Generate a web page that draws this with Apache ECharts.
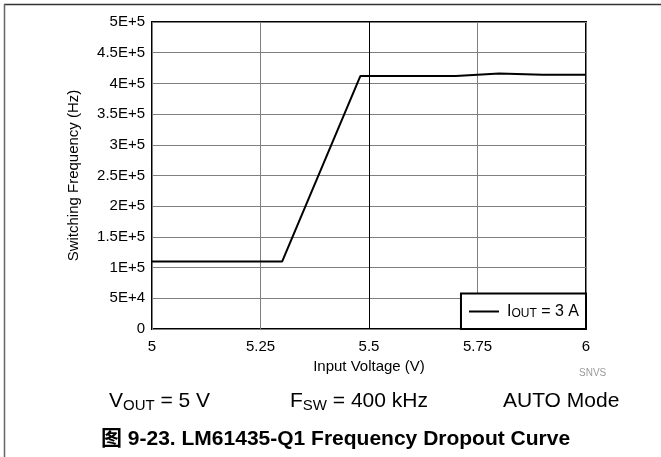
<!DOCTYPE html>
<html>
<head>
<meta charset="utf-8">
<script src="https://cdn.jsdelivr.net/npm/echarts@6/dist/echarts.min.js"></script>
<style>
html,body{margin:0;padding:0;background:#fff;}
#chart{width:661px;height:457px;}
</style>
</head>
<body>
<div id="chart"></div>
<script>
// Data
var inputVoltage = [5.0, 5.30, 5.48, 5.70, 5.80, 5.90, 6.0];
var switchingFreq = [110000, 110000, 412000, 412000, 416000, 414000, 414000];
var seriesName = 'IOUT = 3 A';
var xTickLabels = ['5', '5.25', '5.5', '5.75', '6'];
var yTickLabels = ['0', '5E+4', '1E+5', '1.5E+5', '2E+5', '2.5E+5', '3E+5', '3.5E+5', '4E+5', '4.5E+5', '5E+5'];

var font = '"Liberation Sans", Arial, sans-serif';
var chart = echarts.init(document.getElementById('chart'), null, {renderer: 'canvas'});

var pts = inputVoltage.map(function (v, i) { return [v, switchingFreq[i]]; });

var subRich = function (main, sub, pad) {
  return {
    m: {fontFamily: font, fontSize: main, color: '#000', fill: '#000'},
    s: {fontFamily: font, fontSize: sub, color: '#000', fill: '#000', verticalAlign: 'bottom', padding: [pad, 0, 0, 0]}
  };
};

chart.setOption({
  animation: false,
  backgroundColor: '#fff',
  grid: {left: 152, top: 22, right: 75, bottom: 128, show: true, borderColor: '#000', borderWidth: 2, backgroundColor: 'transparent'},
  xAxis: {
    type: 'value', min: 5, max: 6, interval: 0.25,
    name: 'Input Voltage (V)', nameLocation: 'middle', nameGap: 27,
    nameTextStyle: {fontFamily: font, fontSize: 15, color: '#000'},
    axisLine: {show: false}, axisTick: {show: false},
    axisLabel: {fontFamily: font, fontSize: 15, color: '#000', margin: 10,
      formatter: function (v) { return xTickLabels[Math.round((v - 5) / 0.25)]; }},
    splitLine: {show: true, lineStyle: {color: ['#7f7f7f', '#7f7f7f', '#000', '#7f7f7f', '#7f7f7f'], width: 1}}
  },
  yAxis: {
    type: 'value', min: 0, max: 500000, interval: 50000,
    name: 'Switching Frequency (Hz)', nameLocation: 'middle', nameGap: 71, nameRotate: 90,
    nameTextStyle: {fontFamily: font, fontSize: 15, color: '#000'},
    axisLine: {show: false}, axisTick: {show: false},
    axisLabel: {fontFamily: font, fontSize: 15, color: '#000', margin: 7,
      formatter: function (v) { return yTickLabels[Math.round(v / 50000)]; }},
    splitLine: {show: true, lineStyle: {color: '#7f7f7f', width: 1}}
  },
  legend: {
    show: true, right: 75, bottom: 128,
    orient: 'vertical',
    padding: [10, 7, 9, 8],
    borderColor: '#000', borderWidth: 2, borderRadius: 0,
    backgroundColor: '#fff',
    itemWidth: 30, itemHeight: 2, itemGap: 0,
    icon: 'rect',
    data: [seriesName],
    formatter: function () { return '{m|I}{s|OUT}{m| = 3 A}'; },
    textStyle: {
      fontFamily: font, fontSize: 16, color: '#000', padding: [0, 0, 0, 3],
      rich: subRich(16, 12, 5)
    }
  },
  series: [{
    name: seriesName, type: 'line', data: pts,
    showSymbol: false, symbol: 'none',
    lineStyle: {color: '#000', width: 2},
    itemStyle: {color: '#000'},
    z: 5
  }],
  graphic: [
    {type: 'line', shape: {x1: 4, y1: 4.5, x2: 661, y2: 4.5}, style: {stroke: '#333', lineWidth: 1.5}},
    {type: 'line', shape: {x1: 4.5, y1: 4, x2: 4.5, y2: 457}, style: {stroke: '#666', lineWidth: 1.5}},
    {type: 'text', left: 579, top: 368, style: {text: 'SNVS', fontFamily: font, fontSize: 10, fill: '#9a9a9a'}},
    {type: 'text', left: 109, top: 391, style: {text: '{m|V}{s|OUT}{m| = 5 V}', fontFamily: font, rich: subRich(21, 15, 8)}},
    {type: 'text', left: 290, top: 391, style: {text: '{m|F}{s|SW}{m| = 400 kHz}', fontFamily: font, rich: subRich(21, 15, 8)}},
    {type: 'text', left: 503, top: 391, style: {text: 'AUTO Mode', fontFamily: font, fontSize: 21, fill: '#000'}},
    {type: 'text', left: 101, top: 429, style: {text: '图 9-23. LM61435-Q1 Frequency Dropout Curve', fontFamily: '"Liberation Sans", "Noto Sans CJK SC", Arial, sans-serif', fontSize: 21, fontWeight: 'bold', fill: '#000'}}
  ]
});
</script>
</body>
</html>
